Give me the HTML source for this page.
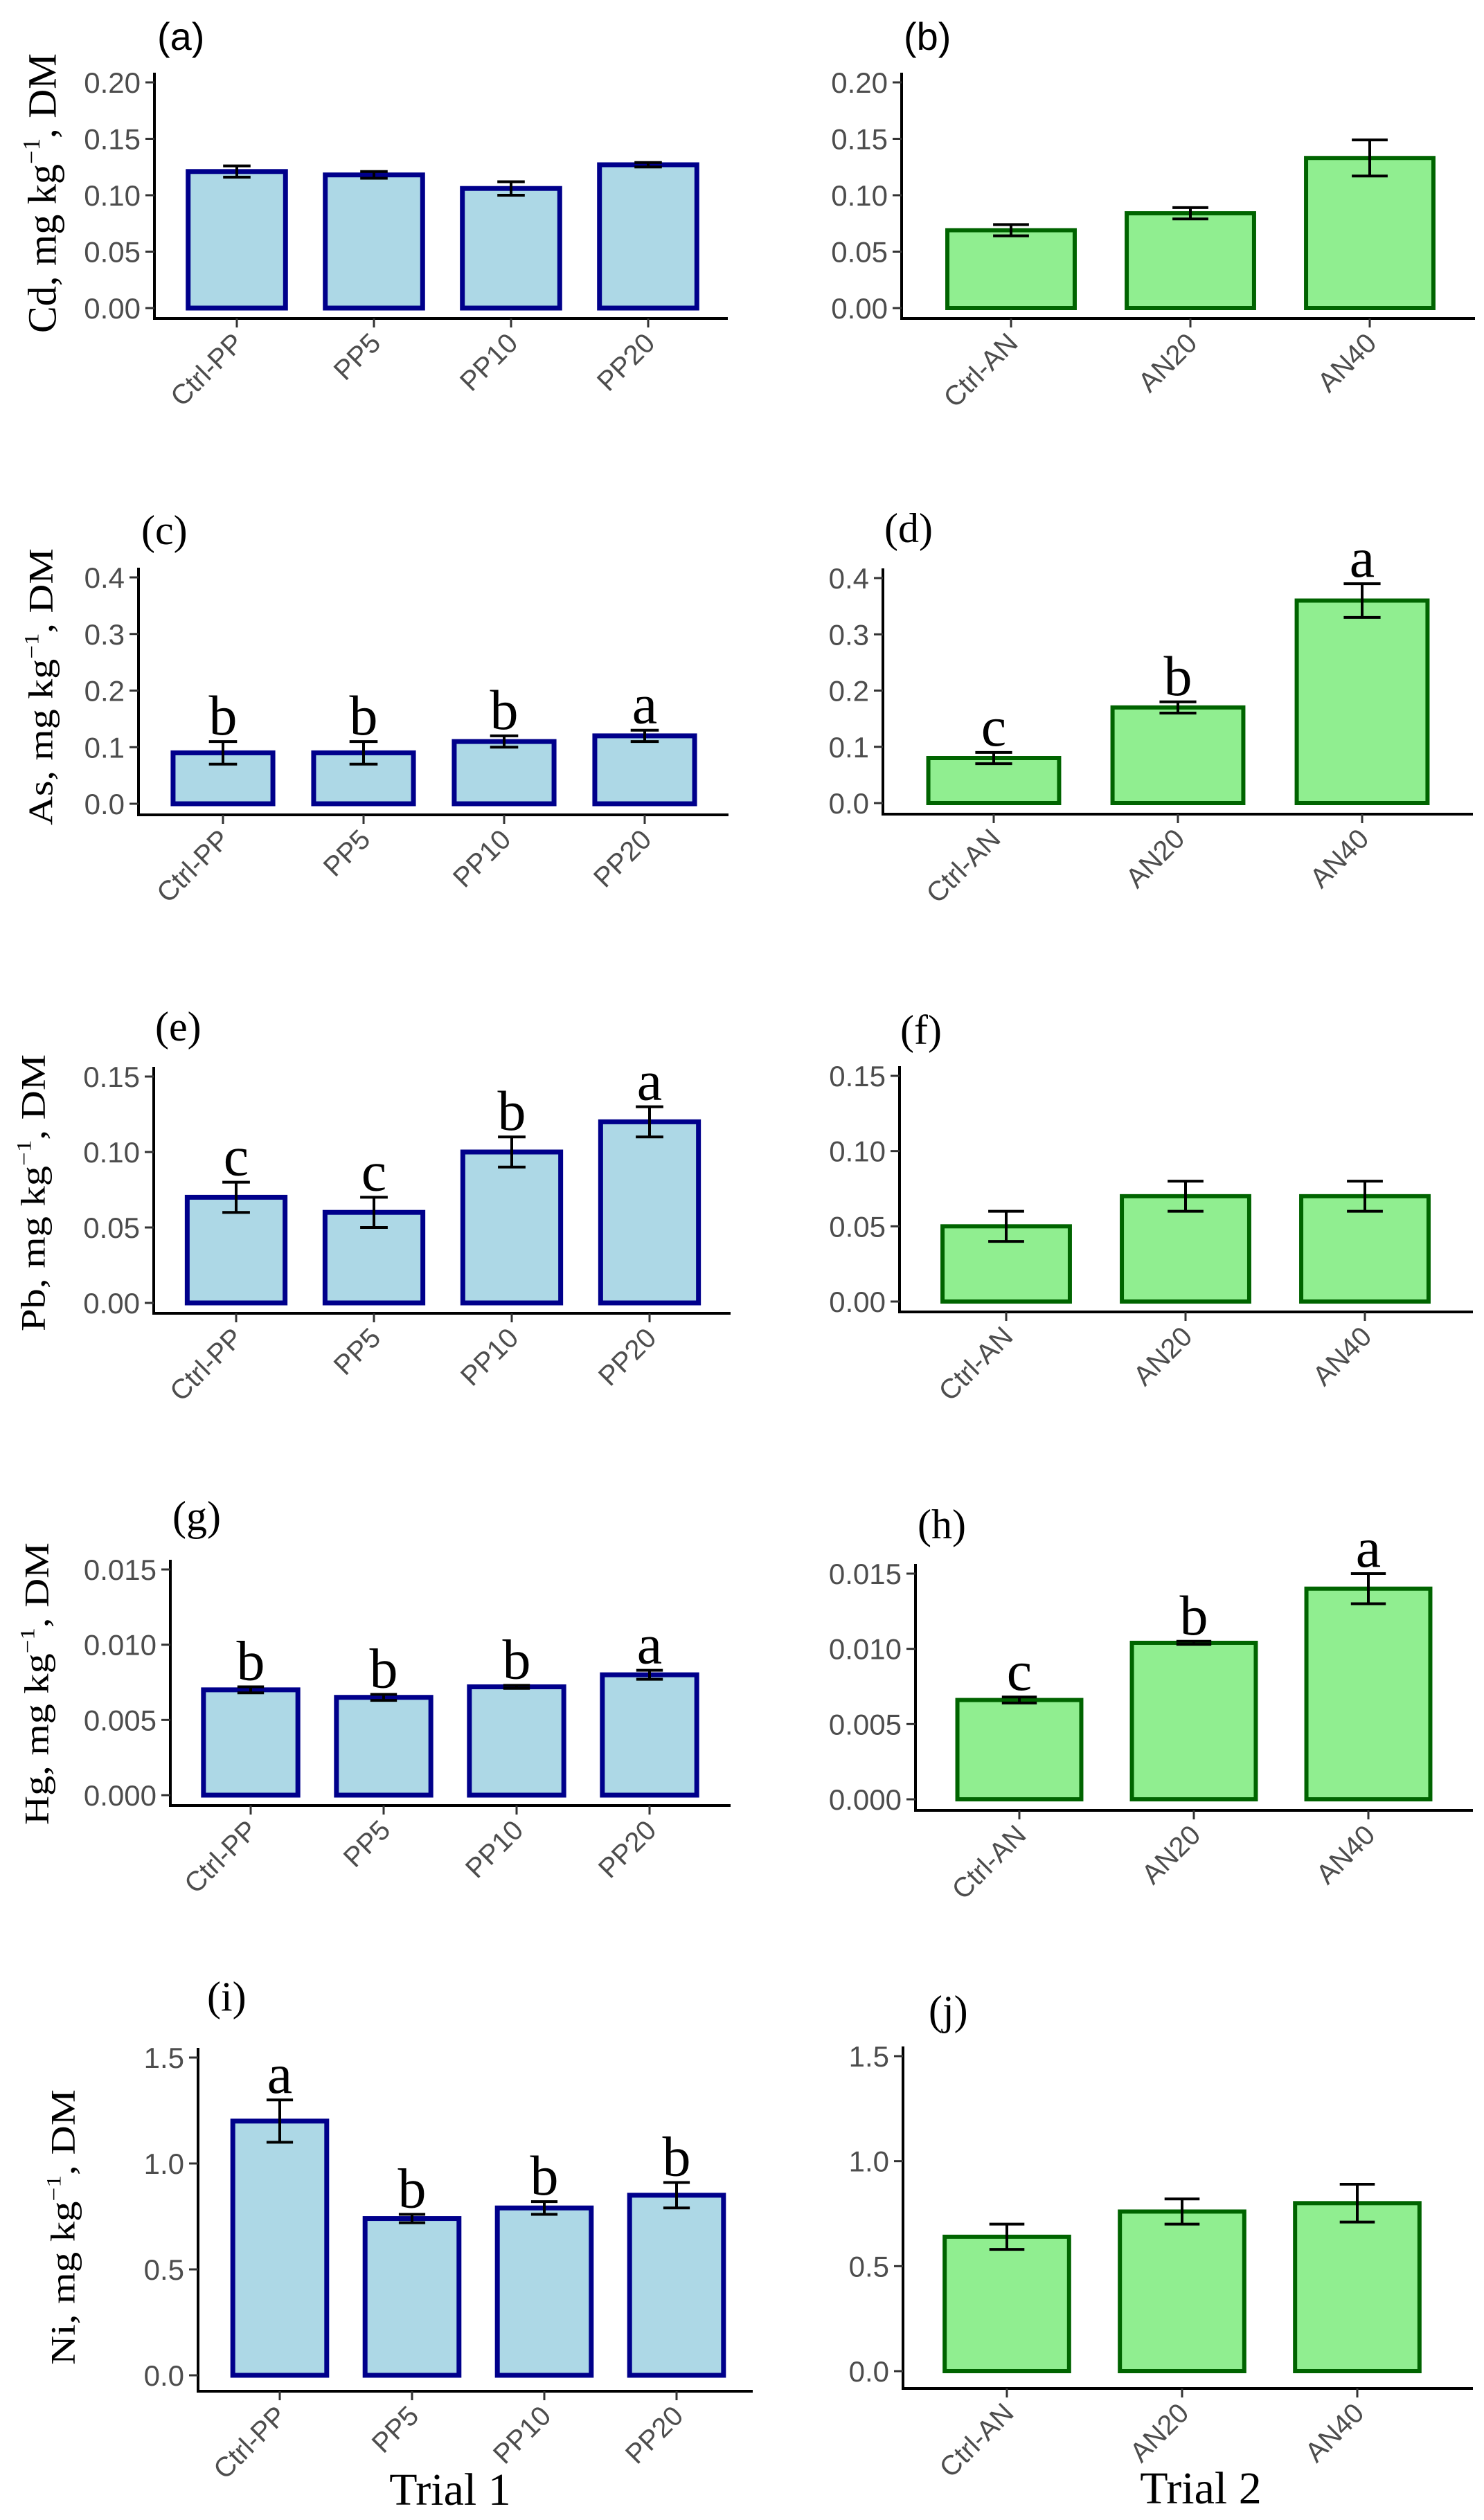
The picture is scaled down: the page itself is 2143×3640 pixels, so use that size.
<!DOCTYPE html>
<html><head><meta charset="utf-8">
<style>
html,body{margin:0;padding:0;background:#fff;}
svg{display:block;}
</style></head>
<body>
<svg id="fig" xmlns="http://www.w3.org/2000/svg" width="2143" height="3640" viewBox="0 0 2143 3640"></svg>
<script>
// ---- data ----
const catsPP = ["Ctrl-PP","PP5","PP10","PP20"];
const catsAN = ["Ctrl-AN","AN20","AN40"];
const valA = [0.121,0.118,0.106,0.127];  const errA = [0.005,0.003,0.006,0.002];
const valB = [0.069,0.084,0.133];        const errB = [0.005,0.005,0.016];
const valC = [0.09,0.09,0.11,0.12];      const errC = [0.02,0.02,0.01,0.01];
const letC = ["b","b","b","a"];
const valD = [0.08,0.17,0.36];           const errD = [0.01,0.01,0.03];
const letD = ["c","b","a"];
const valE = [0.07,0.06,0.10,0.12];      const errE = [0.01,0.01,0.01,0.01];
const letE = ["c","c","b","a"];
const valF = [0.05,0.07,0.07];           const errF = [0.01,0.01,0.01];
const valG = [0.0070,0.0065,0.0072,0.0080]; const errG = [0.0002,0.0002,0.0001,0.0003];
const letG = ["b","b","b","a"];
const valH = [0.0066,0.0104,0.0140];     const errH = [0.0002,0.0001,0.0010];
const letH = ["c","b","a"];
const valI = [1.2,0.74,0.79,0.85];       const errI = [0.1,0.02,0.03,0.06];
const letI = ["a","b","b","b"];
const valJ = [0.64,0.76,0.80];           const errJ = [0.06,0.06,0.09];
const ticksCd = ["0.00","0.05","0.10","0.15","0.20"];
const ticksAs = ["0.0","0.1","0.2","0.3","0.4"];
const ticksPb = ["0.00","0.05","0.10","0.15"];
const ticksHg = ["0.000","0.005","0.010","0.015"];
const ticksNi = ["0.0","0.5","1.0","1.5"];

const NS="http://www.w3.org/2000/svg";
const svg=document.getElementById('fig');
function mk(tag,attrs,parent){const e=document.createElementNS(NS,tag);for(const k in attrs)e.setAttribute(k,attrs[k]);(parent||svg).appendChild(e);return e;}

const PP={fill:"#ADD8E6",stroke:"#00008B"}, AN={fill:"#90EE90",stroke:"#006400"};

const panels=[
 {id:"a",cats:catsPP,val:valA,err:errA,let:null,ticks:ticksCd,vmax:0.20,ax:223,right:1051,y0:445,ytop:119,axY:460,c0:342,sp:198,col:PP,lab:[227,72],sans:true},
 {id:"b",cats:catsAN,val:valB,err:errB,let:null,ticks:ticksCd,vmax:0.20,ax:1302,right:2130,y0:445,ytop:119,axY:460,c0:1460,sp:259,col:AN,lab:[1305,72],sans:true},
 {id:"c",cats:catsPP,val:valC,err:errC,let:letC,ticks:ticksAs,vmax:0.4,ax:200,right:1052,y0:1161,ytop:834,axY:1177,c0:322,sp:203,col:PP,lab:[204,786]},
 {id:"d",cats:catsAN,val:valD,err:errD,let:letD,ticks:ticksAs,vmax:0.4,ax:1275,right:2127,y0:1160,ytop:835,axY:1176,c0:1435,sp:266,col:AN,lab:[1277,783]},
 {id:"e",cats:catsPP,val:valE,err:errE,let:letE,ticks:ticksPb,vmax:0.15,ax:222,right:1055,y0:1882,ytop:1555,axY:1897,c0:341,sp:199,col:PP,lab:[224,1503]},
 {id:"f",cats:catsAN,val:valF,err:errF,let:null,ticks:ticksPb,vmax:0.15,ax:1299,right:2127,y0:1880,ytop:1554,axY:1895,c0:1453,sp:259,col:AN,lab:[1300,1508]},
 {id:"g",cats:catsPP,val:valG,err:errG,let:letG,ticks:ticksHg,vmax:0.015,ax:246,right:1055,y0:2593,ytop:2267,axY:2608,c0:362,sp:192,col:PP,lab:[249,2210]},
 {id:"h",cats:catsAN,val:valH,err:errH,let:letH,ticks:ticksHg,vmax:0.015,ax:1322,right:2127,y0:2599,ytop:2273,axY:2615,c0:1472,sp:252,col:AN,lab:[1325,2222]},
 {id:"i",cats:catsPP,val:valI,err:errI,let:letI,ticks:ticksNi,vmax:1.5,ax:286,right:1087,y0:3431,ytop:2972,axY:3454,c0:404,sp:191,col:PP,lab:[299,2904]},
 {id:"j",cats:catsAN,val:valJ,err:errJ,let:null,ticks:ticksNi,vmax:1.5,ax:1304,right:2127,y0:3425,ytop:2970,axY:3450,c0:1454,sp:253,col:AN,lab:[1341,2924]}
];

panels.forEach(p=>{
  const g=mk('g',{});
  
  
  const yS=v=>p.y0-(v/p.vmax)*(p.y0-p.ytop);
  const xS=i=>p.c0+i*p.sp;
  // panel label
  const lt=mk('text',{x:p.lab[0],y:p.lab[1],'font-size':p.sans?56:60,'font-family':p.sans?'Liberation Sans, sans-serif':'Liberation Serif, serif',fill:'#000'},g);
  lt.textContent='('+p.id+')';
  
  
  // axes
  const ya=mk('line',{x1:p.ax,y1:p.ytop-14,x2:p.ax,y2:p.axY,stroke:'#000','stroke-width':4},g);
  
  
  const xa=mk('line',{x1:p.ax-2,y1:p.axY,x2:p.right,y2:p.axY,stroke:'#000','stroke-width':4},g);
  
  
  // y ticks
  const step=p.vmax/(p.ticks.length-1);
  p.ticks.forEach((t,k)=>{
    const y=yS(k*step);
    mk('line',{x1:p.ax-13,y1:y,x2:p.ax,y2:y,stroke:'#333','stroke-width':3},g);
    const tx=mk('text',{x:p.ax-20,y:y+15,'text-anchor':'end','font-size':42,'font-family':'Liberation Sans, sans-serif',fill:'#4d4d4d'},g);
    tx.textContent=t;
    
    
  });
  const bw=p.sp*0.71, cw=p.sp*0.2;
  p.cats.forEach((c,i)=>{
    const cx=xS(i), v=p.val[i], e=p.err[i];
    const r=mk('rect',{x:cx-bw/2,y:yS(v),width:bw,height:p.y0-yS(v),fill:p.col.fill,stroke:p.col.stroke,'stroke-width':p.col===PP?7:6},g);
    
    
    const eg=mk('g',{stroke:'#000','stroke-width':4},g);
    
    
    const yt=yS(v+e), yb=yS(v-e);
    mk('line',{x1:cx,y1:yt,x2:cx,y2:yb},eg);
    mk('line',{x1:cx-cw/2,y1:yt,x2:cx+cw/2,y2:yt},eg);
    mk('line',{x1:cx-cw/2,y1:yb,x2:cx+cw/2,y2:yb},eg);
    if(p.let){
      const L=mk('text',{x:cx,y:yt-10,'text-anchor':'middle','font-size':82,'font-family':'Liberation Serif, serif',fill:'#000'},g);
      L.textContent=p.let[i];
      
      
    }
    mk('line',{x1:cx,y1:p.axY,x2:cx,y2:p.axY+13,stroke:'#333','stroke-width':3},g);
    const ty=p.axY+30;
    const xl=mk('text',{x:cx+12,y:ty+8,'text-anchor':'end','font-size':40,'font-family':'Liberation Sans, sans-serif',fill:'#4d4d4d',transform:'rotate(-45 '+(cx+12)+' '+(ty+8)+')'},g);
    xl.textContent=c;
    
    
  });
});

// y-axis titles
const ytitles=[
 {el:"Cd",cx:60,cy:279,len:404,fs:58},
 {el:"As",cx:58,cy:992,len:400,fs:50},
 {el:"Pb",cx:47,cy:1723,len:400,fs:50},
 {el:"Hg",cx:52,cy:2432,len:408,fs:50},
 {el:"Ni",cx:90,cy:3217,len:398,fs:50}
];
ytitles.forEach(t=>{
  const tx=mk('text',{x:0,y:0,'text-anchor':'middle','font-size':t.fs,'font-family':'Liberation Serif, serif',fill:'#000',
    textLength:t.len,lengthAdjust:'spacingAndGlyphs',transform:'translate('+(t.cx+t.fs*0.35)+','+t.cy+') rotate(-90)'});
  
  
  const a=mk('tspan',{},tx); a.textContent=t.el+', mg kg';
  const s=mk('tspan',{dy:-t.fs*0.4,'font-size':t.fs*0.6},tx); s.textContent='\u22121';
  const b=mk('tspan',{dy:t.fs*0.4},tx); b.textContent=', DM';
});

const t1=mk('text',{x:650,y:3618,'text-anchor':'middle','font-size':66,'font-family':'Liberation Serif, serif',fill:'#000'});
t1.textContent='Trial  1';


const t2=mk('text',{x:1734,y:3616,'text-anchor':'middle','font-size':66,'font-family':'Liberation Serif, serif',fill:'#000'});
t2.textContent='Trial  2';


</script>
</body></html>
